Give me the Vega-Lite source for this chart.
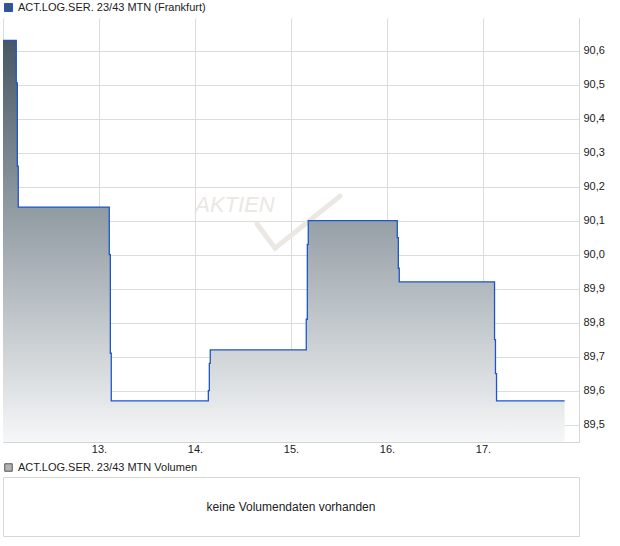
{
  "$schema": "https://vega.github.io/schema/vega-lite/v6.json",
  "background": "white",
  "padding": {"left": 0, "top": 2, "right": 5, "bottom": 5},
  "config": {
    "font": "Liberation Sans",
    "view": {"stroke": null}
  },
  "datasets": {
    "price": [
      {"t": "2024-06-12T00:00", "v": 90.63, "series": "ACT.LOG.SER. 23/43 MTN (Frankfurt)"},
      {"t": "2024-06-12T03:19", "v": 90.505, "series": "ACT.LOG.SER. 23/43 MTN (Frankfurt)"},
      {"t": "2024-06-12T03:35", "v": 90.26, "series": "ACT.LOG.SER. 23/43 MTN (Frankfurt)"},
      {"t": "2024-06-12T03:49", "v": 90.14, "series": "ACT.LOG.SER. 23/43 MTN (Frankfurt)"},
      {"t": "2024-06-13T02:34", "v": 90.0, "series": "ACT.LOG.SER. 23/43 MTN (Frankfurt)"},
      {"t": "2024-06-13T02:50", "v": 89.71, "series": "ACT.LOG.SER. 23/43 MTN (Frankfurt)"},
      {"t": "2024-06-13T03:04", "v": 89.57, "series": "ACT.LOG.SER. 23/43 MTN (Frankfurt)"},
      {"t": "2024-06-14T03:20", "v": 89.6, "series": "ACT.LOG.SER. 23/43 MTN (Frankfurt)"},
      {"t": "2024-06-14T03:35", "v": 89.68, "series": "ACT.LOG.SER. 23/43 MTN (Frankfurt)"},
      {"t": "2024-06-14T03:49", "v": 89.72, "series": "ACT.LOG.SER. 23/43 MTN (Frankfurt)"},
      {"t": "2024-06-15T03:49", "v": 89.81, "series": "ACT.LOG.SER. 23/43 MTN (Frankfurt)"},
      {"t": "2024-06-15T04:05", "v": 90.03, "series": "ACT.LOG.SER. 23/43 MTN (Frankfurt)"},
      {"t": "2024-06-15T04:19", "v": 90.1, "series": "ACT.LOG.SER. 23/43 MTN (Frankfurt)"},
      {"t": "2024-06-16T02:34", "v": 90.05, "series": "ACT.LOG.SER. 23/43 MTN (Frankfurt)"},
      {"t": "2024-06-16T02:50", "v": 89.96, "series": "ACT.LOG.SER. 23/43 MTN (Frankfurt)"},
      {"t": "2024-06-16T03:04", "v": 89.92, "series": "ACT.LOG.SER. 23/43 MTN (Frankfurt)"},
      {"t": "2024-06-17T02:53", "v": 89.75, "series": "ACT.LOG.SER. 23/43 MTN (Frankfurt)"},
      {"t": "2024-06-17T03:07", "v": 89.65, "series": "ACT.LOG.SER. 23/43 MTN (Frankfurt)"},
      {"t": "2024-06-17T03:23", "v": 89.57, "series": "ACT.LOG.SER. 23/43 MTN (Frankfurt)"},
      {"t": "2024-06-17T20:25", "v": 89.57, "series": "ACT.LOG.SER. 23/43 MTN (Frankfurt)"}
    ],
    "mark": [
      {"t": "2024-06-14T10:00", "v": 90.146, "label": "AKTIEN"}
    ],
    "check": [
      {"t": "2024-06-14T15:30", "v": 90.09},
      {"t": "2024-06-14T20:00", "v": 90.019},
      {"t": "2024-06-15T12:15", "v": 90.172}
    ],
    "vol": [
      {"msg": "keine Volumendaten vorhanden", "series": "ACT.LOG.SER. 23/43 MTN Volumen"}
    ]
  },
  "vconcat": [
    {
      "width": 576,
      "height": 424,
      "encoding": {
        "x": {
          "field": "t", "type": "temporal",
          "scale": {"domain": [
            {"year": 2024, "month": 6, "date": 12, "hours": 0},
            {"year": 2024, "month": 6, "date": 18, "hours": 0}
          ]},
          "axis": {
            "title": null,
            "tickCount": {"interval": "day", "step": 1},
            "labelExpr": "date(datum.value) == 12 || date(datum.value) == 18 ? '' : timeFormat(datum.value, '%d.')",
            "grid": true, "gridColor": "#dcdcdc", "gridWidth": 1,
            "domainColor": "#d6d6d6", "ticks": false,
            "labelPadding": 1, "labelFontSize": 11, "labelColor": "#222222",
            "labelFont": "Liberation Sans", "labelFlush": false
          }
        },
        "y": {
          "field": "v", "type": "quantitative",
          "scale": {"domain": [89.449, 90.696], "zero": false, "nice": false},
          "axis": {
            "title": null, "orient": "right",
            "values": [89.5, 89.6, 89.7, 89.8, 89.9, 90.0, 90.1, 90.2, 90.3, 90.4, 90.5, 90.6],
            "labelExpr": "replace(format(datum.value, '.1f'), '.', ',')",
            "grid": true, "gridColor": "#dcdcdc", "gridWidth": 1,
            "domainColor": "#d6d6d6", "ticks": false,
            "labelPadding": 4, "labelFontSize": 11, "labelColor": "#222222",
            "labelFont": "Liberation Sans"
          }
        }
      },
      "layer": [
        {
          "data": {"name": "mark"},
          "mark": {"type": "text", "fontSize": 22, "fontStyle": "italic", "color": "#ebe7e2", "align": "center", "baseline": "middle"},
          "encoding": {"text": {"field": "label"}}
        },
        {
          "data": {"name": "check"},
          "mark": {"type": "line", "color": "#ebe7e2", "strokeWidth": 5, "strokeCap": "round", "strokeJoin": "miter"},
          "encoding": {}
        },
        {
          "data": {"name": "price"},
          "mark": {
            "type": "area", "interpolate": "step-after",
            "fill": {
              "gradient": "linear", "x1": 0, "y1": 0, "x2": 0, "y2": 1,
              "stops": [
                {"offset": 0, "color": "#475864"},
                {"offset": 1, "color": "#f6f7f8"}
              ]
            }
          },
          "encoding": {
            "y": {"field": "v", "type": "quantitative", "stack": null},
            "y2": {"datum": 89.449}
          }
        },
        {
          "data": {"name": "price"},
          "mark": {"type": "line", "interpolate": "step-after", "strokeWidth": 1.3},
          "encoding": {
            "color": {
              "field": "series", "type": "nominal",
              "scale": {"range": ["#1d56c9"]},
              "legend": {
                "title": null, "orient": "none", "legendX": 0, "legendY": -16,
                "symbolType": "square", "symbolSize": 64,
                "symbolFillColor": "#3a5582", "symbolStrokeColor": "#1d4fbf", "symbolStrokeWidth": 1,
                "labelFontSize": 11, "labelColor": "#222222", "labelFont": "Liberation Sans",
                "labelOffset": 4, "padding": 0, "labelLimit": 400
              }
            }
          }
        }
      ]
    },
    {
      "width": 576,
      "height": 59,
      "view": {"stroke": "#d6d6d6"},
      "data": {"name": "vol"},
      "layer": [
        {
          "mark": {"type": "text", "fontSize": 12, "color": "#222222", "font": "Liberation Sans"},
          "encoding": {"text": {"field": "msg"}}
        },
        {
          "mark": {"type": "point", "filled": true, "opacity": 0},
          "encoding": {
            "color": {
              "field": "series", "type": "nominal",
              "scale": {"range": ["#b3b3b3"]},
              "legend": {
                "title": null, "orient": "none", "legendX": 0, "legendY": -15,
                "symbolType": "square", "symbolSize": 56, "symbolOpacity": 1,
                "symbolStrokeColor": "#555555", "symbolStrokeWidth": 1,
                "labelFontSize": 11, "labelColor": "#222222", "labelFont": "Liberation Sans",
                "labelOffset": 4, "padding": 0, "labelLimit": 400
              }
            }
          }
        }
      ]
    }
  ],
  "spacing": 35,
  "bounds": "flush",
  "resolve": {"scale": {"color": "independent"}}
}
